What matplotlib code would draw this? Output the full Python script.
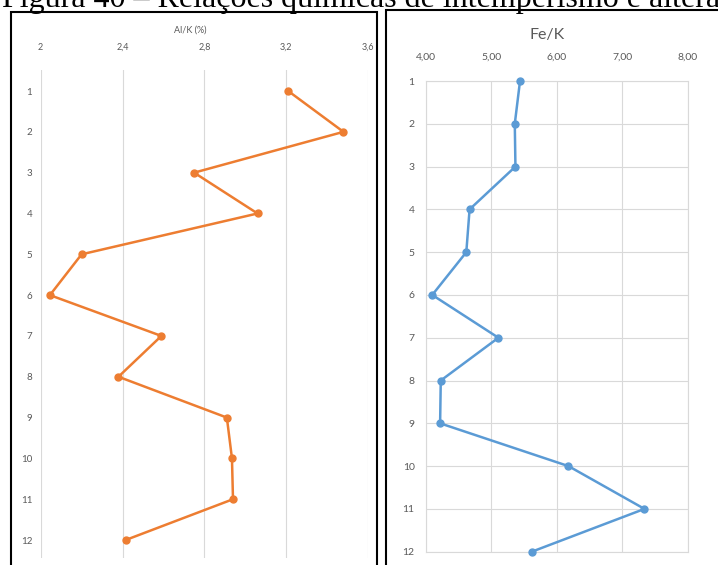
import matplotlib.pyplot as plt
from matplotlib.patches import Rectangle

# dados
amostras = list(range(1, 13))
al_k = [3.21, 3.48, 2.75, 3.06, 2.20, 2.045, 2.59, 2.38, 2.91, 2.935, 2.94, 2.415]
fe_k = [5.44, 5.36, 5.37, 4.67, 4.62, 4.10, 5.11, 4.23, 4.22, 6.18, 7.34, 5.62]
al_ticks = [2, 2.4, 2.8, 3.2, 3.6]
fe_ticks = [4, 5, 6, 7, 8]

W, H = 718, 565
plt.rcParams['font.family'] = ['Lato', 'DejaVu Sans']
fig = plt.figure(figsize=(W / 100, H / 100), dpi=100)

def px(x0, y0, x1, y1):
    # caixa em pixels (origem no topo) -> coordenadas da figura
    return [x0 / W, 1 - y1 / H, (x1 - x0) / W, (y1 - y0) / H]

cinza_txt = '#595959'
cinza_grd = '#d9d9d9'

# painel esquerdo: Al/K
ax1 = fig.add_axes(px(40.7, 70, 368, 558))
ax1.plot(al_k, amostras, color='#ED7D31', lw=1.8, marker='o', ms=5, clip_on=False, zorder=4)
ax1.set_xlim(2, 3.6)
ax1.set_ylim(12.44, 0.485)
ax1.set_xticks(al_ticks)
ax1.set_xticklabels([f'{v:g}'.replace('.', ',') for v in al_ticks])
ax1.set_yticks(amostras)
ax1.xaxis.tick_top()
ax1.tick_params(axis='x', length=0, pad=13, labelsize=6.5, labelcolor=cinza_txt)
ax1.tick_params(axis='y', length=0, pad=6, labelsize=7, labelcolor=cinza_txt)
ax1.grid(axis='x', color=cinza_grd, lw=0.8)
ax1.set_axisbelow(True)
for s in ax1.spines.values():
    s.set_visible(False)
fig.text(190 / W, 1 - 30 / H, 'Al/K (%)', ha='center', va='center', fontsize=6.5, color=cinza_txt)

# painel direito: Fe/K
ax2 = fig.add_axes(px(425.7, 81, 687.7, 551.7))
ax2.plot(fe_k, amostras, color='#5B9BD5', lw=1.8, marker='o', ms=5, clip_on=False, zorder=4)
ax2.set_xlim(4, 8)
ax2.set_ylim(12, 1)
ax2.set_xticks(fe_ticks)
ax2.set_xticklabels([f'{v:.2f}'.replace('.', ',') for v in fe_ticks])
ax2.set_yticks(amostras)
ax2.xaxis.tick_top()
ax2.tick_params(axis='x', length=0, pad=14, labelsize=7.5, labelcolor=cinza_txt)
ax2.tick_params(axis='y', length=0, pad=8, labelsize=7.5, labelcolor=cinza_txt)
ax2.grid(color=cinza_grd, lw=0.8)
ax2.set_axisbelow(True)
for s in ax2.spines.values():
    s.set_color(cinza_grd)
    s.set_linewidth(0.8)
fig.text(547 / W, 1 - 35 / H, 'Fe/K', ha='center', va='center', fontsize=11.5, color=cinza_txt)

# molduras
fig.add_artist(Rectangle((10.7 / W, -0.05), (377 - 10.7) / W, 1.05 - 12.5 / H,
                         transform=fig.transFigure, fill=False, ec='black', lw=1.5))
fig.add_artist(Rectangle((386 / W, -0.05), 0.5, 1.05 - 9.5 / H,
                         transform=fig.transFigure, fill=False, ec='black', lw=1.5))

# legenda da figura (cortada no topo, como no original)
fig.text(2 / W, 1 - 7 / H, 'Figura 40 – Relações químicas de intemperismo e alteração',
         ha='left', va='baseline', fontsize=23, family=['Liberation Serif', 'DejaVu Serif'])

fig.savefig('out.png', dpi=100)
